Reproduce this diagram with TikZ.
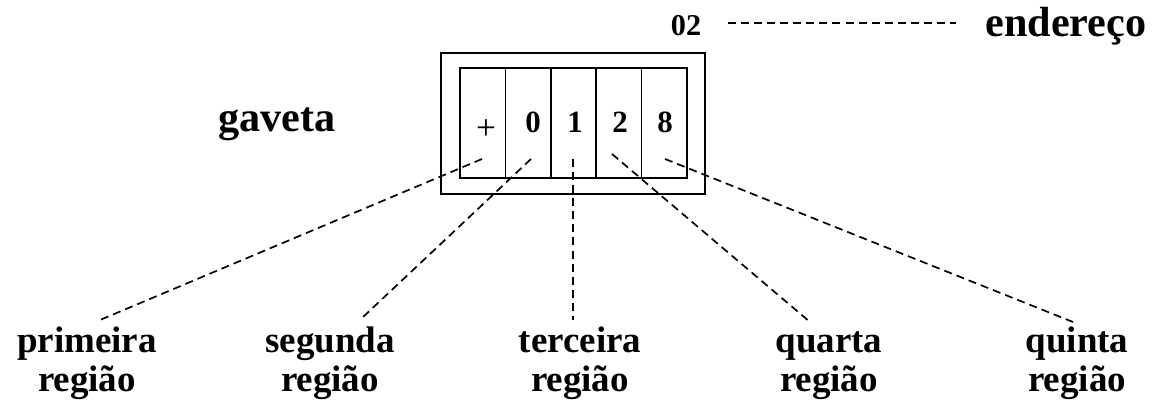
\documentclass[tikz,border=0pt]{standalone}
\usepackage{fontspec}
\setmainfont{Liberation Serif}
\usetikzlibrary{positioning}
\tikzstyle{drawer} = [rectangle, draw=black, line width=1.2pt, minimum width=6.6cm, minimum height=3.525cm, inner sep=0pt]
\tikzstyle{cell} = [rectangle, draw=black, line width=1pt, minimum width=1.135cm, minimum height=2.75cm, inner sep=0pt]
\tikzstyle{digit} = [anchor=base, inner sep=0pt, font=\bfseries\fontsize{22}{24}\selectfont]
\tikzstyle{title} = [anchor=base, inner sep=0pt, font=\bfseries\fontsize{30}{34}\selectfont]
\tikzstyle{region} = [anchor=base, align=center, inner sep=0pt, font=\bfseries\fontsize{26.3}{28.4}\selectfont]
\tikzstyle{link} = [dash pattern=on 5.7pt off 3.6pt, line width=1.2pt]

\begin{document}
\begin{tikzpicture}[x=0.025cm, y=-0.025cm]
    \useasboundingbox (0,0) rectangle (1153,405);

    % Drawer with its five cells
    \node[drawer] (drawer) at (573,123.5) {};
    \foreach \i in {1,...,5}
        \node[cell] (c\i) at ({460+45.4*(\i-0.5)},123) {};
    \node[inner sep=0pt, font=\fontsize{25}{28}\selectfont] (plus) at (486,130) {+};
    \foreach \x/\d in {533/0, 575/1, 620/2, 665/8}
        \node[digit] (d\d) at (\x,133) {\d};
    \node[title] (gaveta) at (277,132) {gaveta};

    % Address
    \node[digit, font=\bfseries\fontsize{21.5}{24}\selectfont] (addr) at (686,36) {02};
    \node[title] (endereco) at (1066,37) {endereço};
    \coordinate (a1) at ([xshift=0.66cm]addr.east);
    \coordinate (a2) at ([xshift=-0.74cm]endereco.west);
    \draw[link] (a1 |- 0,23) -- (a2 |- 0,23);

    % Regions
    \node[region] (r1) at (87,392) {primeira\\região};
    \node[region] (r2) at (330,392) {segunda\\região};
    \node[region] (r3) at (580,392) {terceira\\região};
    \node[region] (r4) at (829,392) {quarta\\região};
    \node[region] (r5) at (1077,392) {quinta\\região};

    \coordinate (p1) at (482,159);
    \coordinate (p2) at (531,159);
    \coordinate (p3) at (573,159);
    \coordinate (p4) at (612,154);
    \coordinate (p5) at (665,159);
    \coordinate (q1) at (100,320);
    \coordinate (q2) at (362,318);
    \coordinate (q3) at (573,320);
    \coordinate (q4) at (810,322);
    \coordinate (q5) at (1073,322);
    \foreach \i in {1,...,5}
        \draw[link] (p\i) -- (q\i);
\end{tikzpicture}
\end{document}
